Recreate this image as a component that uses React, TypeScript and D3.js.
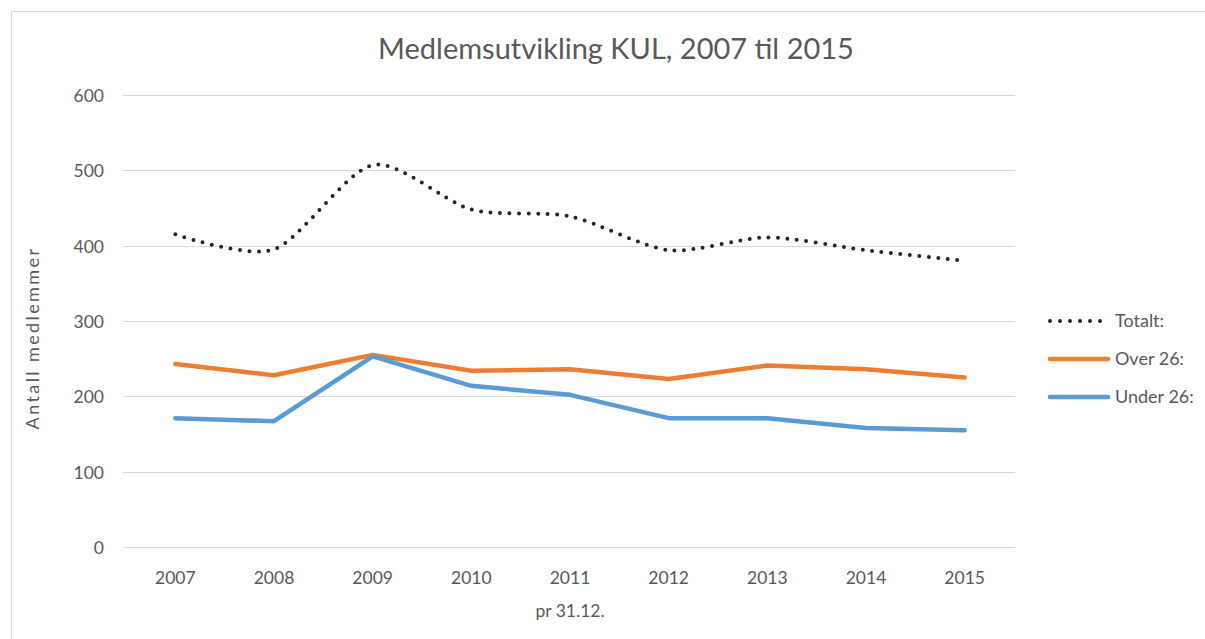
import React from 'react';
import * as d3 from 'd3';

// data
const years = ['2007', '2008', '2009', '2010', '2011', '2012', '2013', '2014', '2015'];
const totalt = [415, 395, 507, 448, 439, 394, 411, 394, 380];
const over26 = [243, 228, 255, 234, 236, 223, 241, 236, 225];
const under26 = [171, 167, 253, 214, 202, 171, 171, 158, 155];
const yTicks = [0, 100, 200, 300, 400, 500, 600];

const series = [
  { name: 'Totalt:', values: totalt, color: '#262626', dotted: true },
  { name: 'Over 26:', values: over26, color: '#ED7D31', dotted: false },
  { name: 'Under 26:', values: under26, color: '#5B9BD5', dotted: false },
];

const font = 'Lato, "Open Sans", sans-serif';
const textColor = '#595959';
const labelSize = 17.5;

const App = () => {
  const width = 1205;
  const height = 639;
  const margin = { top: 95, right: 191, bottom: 92, left: 126 };
  const innerW = width - margin.left - margin.right;
  const innerH = height - margin.top - margin.bottom;

  const x = d3.scaleBand().domain(years).range([0, innerW]);
  const y = d3.scaleLinear().domain([0, 600]).range([innerH, 0]);
  const cx = (i: number) => (x(years[i]) as number) + x.bandwidth() / 2;

  const straight = d3.line<number>().x((_, i) => cx(i)).y(d => y(d));
  const smooth = d3.line<number>().x((_, i) => cx(i)).y(d => y(d)).curve(d3.curveCardinal.tension(0.2));

  return (
    <svg width={width} height={height} style={{ position: 'absolute', left: 0, top: 0, background: '#fff' }}>
      {/* chart frame */}
      <rect x={11.5} y={11.5} width={width} height={height} fill="#fff" stroke="#d9d9d9" strokeWidth={1} />
      <text x={616} y={59} textAnchor="middle" fontFamily={font} fontSize={29} fill={textColor}>
        Medlemsutvikling KUL, 2007 til 2015
      </text>
      <g transform={`translate(${margin.left}, ${margin.top})`}>
        {yTicks.map(t => (
          <g key={t} transform={`translate(0, ${Math.round(y(t)) + 0.5})`}>
            <line x1={-3} x2={innerW + 1} stroke="#d9d9d9" strokeWidth={1} />
            <text x={-22} dy="0.35em" textAnchor="end" fontFamily={font} fontSize={labelSize} fill={textColor}>
              {t}
            </text>
          </g>
        ))}
        {years.map((yr, i) => (
          <text key={yr} x={cx(i)} y={innerH + 37} textAnchor="middle" fontFamily={font} fontSize={labelSize} fill={textColor}>
            {yr}
          </text>
        ))}
        <text x={innerW / 2} y={innerH + 70} textAnchor="middle" fontFamily={font} fontSize={labelSize} fill={textColor}>
          pr 31.12.
        </text>
        <text
          transform={`translate(-87, ${innerH / 2 + 17}) rotate(-90)`}
          textAnchor="middle"
          fontFamily={font}
          fontSize={18}
          letterSpacing={2.4}
          fill={textColor}
        >
          Antall medlemmer
        </text>
        {series.map(s => (
          <path
            key={s.name}
            d={(s.dotted ? smooth : straight)(s.values) || ''}
            fill="none"
            stroke={s.color}
            strokeWidth={s.dotted ? 4 : 4.5}
            strokeLinecap="round"
            strokeLinejoin="round"
            strokeDasharray={s.dotted ? '0 9.5' : undefined}
          />
        ))}
      </g>
      <g transform="translate(1048, 321)">
        {series.map((s, i) => (
          <g key={s.name} transform={`translate(0, ${i * 38})`}>
            <line
              x1={2}
              x2={60}
              stroke={s.color}
              strokeWidth={s.dotted ? 4 : 4.5}
              strokeLinecap="round"
              strokeDasharray={s.dotted ? '0 10' : undefined}
            />
            <text x={67} dy="0.35em" fontFamily={font} fontSize={18} fill={textColor}>
              {s.name}
            </text>
          </g>
        ))}
      </g>
    </svg>
  );
};

export default App;
